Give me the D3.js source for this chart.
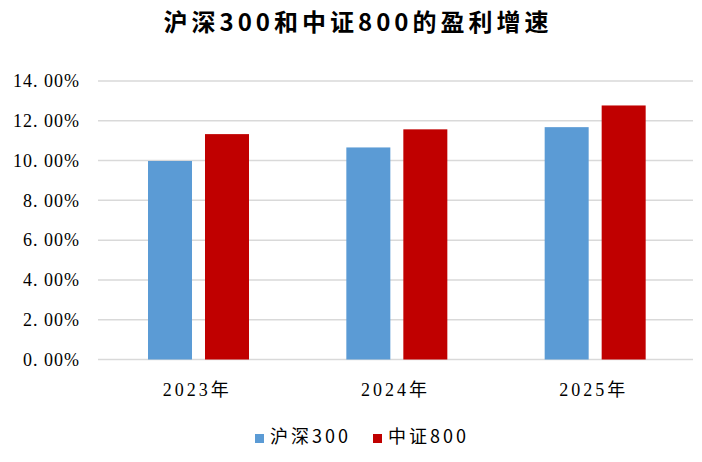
<!DOCTYPE html>
<html>
<head>
<meta charset="utf-8">
<script src="https://cdn.jsdelivr.net/npm/d3@7"></script>
<style>
  body { margin: 0; background: #fff; }
  text { font-family: "Liberation Serif", "Noto Sans CJK SC", serif; fill: #000; }
</style>
</head>
<body>
<svg width="702" height="462"></svg>
<script>
var years = ["2023年", "2024年", "2025年"];
var seriesNames = ["沪深300", "中证800"];
var hs300 = [9.98, 10.66, 11.68];
var zz800 = [11.33, 11.57, 12.77];
var yTicks = [0, 2, 4, 6, 8, 10, 12, 14];
var colors = ["#5b9bd5", "#c00000"];

var svg = d3.select("svg"),
    margin = {top: 81, right: 9, bottom: 102.5, left: 98},
    width = 702 - margin.left - margin.right,
    height = 462 - margin.top - margin.bottom;

var g = svg.append("g").attr("transform", "translate(" + margin.left + "," + margin.top + ")");

var x = d3.scaleBand().domain(years).range([0, width]);
var x1 = d3.scaleBand().domain(seriesNames).range([50, 151]).paddingInner(0.228);
var y = d3.scaleLinear().domain([0, 14]).range([height, 0]);

svg.append("text")
    .attr("x", 358)
    .attr("y", 31)
    .attr("text-anchor", "middle")
    .style("font-family", "'Noto Sans CJK SC', serif")
    .style("font-size", "24px")
    .style("font-weight", "bold")
    .style("letter-spacing", "4px")
    .text("沪深300和中证800的盈利增速");

// gridlines
g.selectAll(".grid")
    .data(yTicks)
  .enter().append("line")
    .attr("x1", 0)
    .attr("x2", width)
    .attr("y1", function(d) { return y(d); })
    .attr("y2", function(d) { return y(d); })
    .attr("stroke", "#d9d9d9")
    .attr("stroke-width", 1.5);

// y labels
var yAxis = g.append("g")
    .call(d3.axisLeft(y).tickValues(yTicks).tickSize(0).tickPadding(18)
      .tickFormat(function(d) { return d.toFixed(2).replace(".", ". ") + "%"; }));
yAxis.select(".domain").remove();
yAxis.selectAll("text")
    .style("font-family", "'Liberation Serif', serif")
    .style("font-size", "18px")
    .style("letter-spacing", "1px");

var data = years.map(function(yr, i) { return {year: yr, values: [hs300[i], zz800[i]]}; });

var grp = g.selectAll(".grp")
    .data(data)
  .enter().append("g")
    .attr("transform", function(d) { return "translate(" + x(d.year) + ",0)"; });

grp.selectAll("rect")
    .data(function(d) { return d.values.map(function(v, i) { return {name: seriesNames[i], v: v, i: i}; }); })
  .enter().append("rect")
    .attr("x", function(d) { return x1(d.name); })
    .attr("width", x1.bandwidth())
    .attr("y", function(d) { return y(d.v); })
    .attr("height", function(d) { return y(0) - y(d.v); })
    .attr("fill", function(d) { return colors[d.i]; });

// x labels
var xAxis = g.append("g")
    .attr("transform", "translate(0," + height + ")")
    .call(d3.axisBottom(x).tickSize(0).tickPadding(24));
xAxis.select(".domain").remove();
xAxis.selectAll("text")
    .style("font-family", "'Liberation Serif', 'Noto Sans CJK SC', serif")
    .style("font-size", "18px")
    .style("letter-spacing", "3px");

// legend
var legend = svg.append("g").attr("transform", "translate(255,443)");
var lx = [0, 118];
seriesNames.forEach(function(n, i) {
  var item = legend.append("g").attr("transform", "translate(" + lx[i] + ",0)");
  item.append("rect")
      .attr("x", 0).attr("y", -9)
      .attr("width", 9).attr("height", 9)
      .attr("fill", colors[i]);
  item.append("text")
      .attr("x", 15).attr("y", 0)
      .style("font-family", "'Noto Sans CJK SC', serif")
      .style("font-size", "18px")
      .style("letter-spacing", "3px")
      .text(n);
});
</script>
</body>
</html>
